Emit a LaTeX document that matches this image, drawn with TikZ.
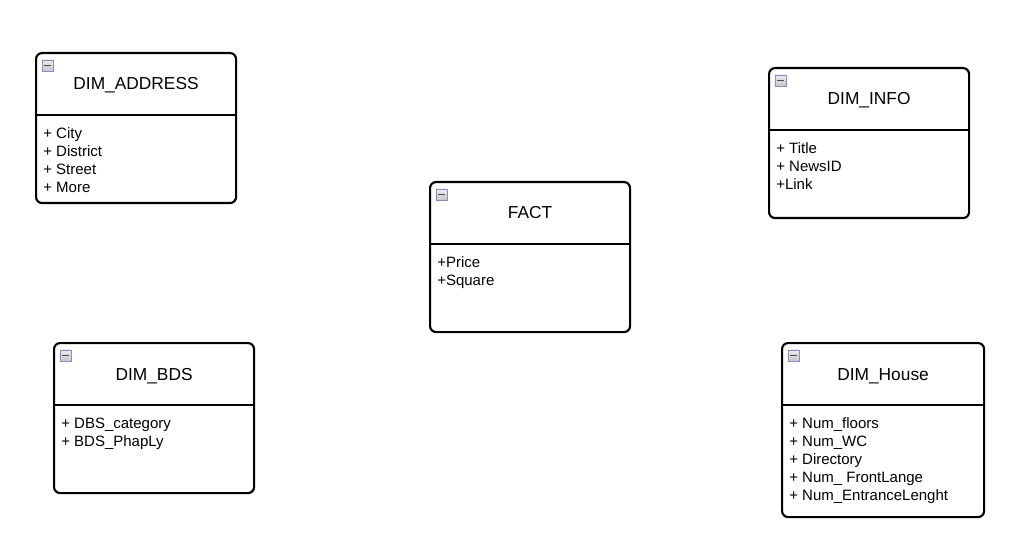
\documentclass[tikz,border=0pt]{standalone}
\usepackage{fontspec}
\setmainfont{Liberation Sans}
\usetikzlibrary{positioning}

\tikzset{
  entity/.style={draw, line width=1.6pt, rounded corners=4.5pt, anchor=north west, inner sep=0pt},
  divider/.style={line width=1.6pt},
  title/.style={inner sep=0pt, anchor=base, font=\fontsize{13}{15}\selectfont},
  attr/.style={inner sep=0pt, anchor=base west, font=\fontsize{11.25}{13.5}\selectfont},
  icon/.style={draw=gray!70!blue!70, top color=gray!15, bottom color=gray!45, minimum size=8.25pt, inner sep=0pt,
    path picture={\draw[line width=1.4pt, black!70] ([xshift=1.6pt]path picture bounding box.west) -- ([xshift=-1.6pt]path picture bounding box.east);}}
}

% name, x, y, width, height, title, attributes (all in px)
\newcommand{\umlentity}[7]{%
  \node[entity, minimum width=#4*0.75pt, minimum height=#5*0.75pt] (#1) at (#2,#3) {};
  \draw[divider] ([yshift=-47.25pt]#1.north west) -- ([yshift=-47.25pt]#1.north east);
  \node[icon] (#1-icon) at ([xshift=9.3pt,yshift=-10.1pt]#1.north west) {};
  \node[title] (#1-title) at ([yshift=-28.5pt]#1.north) {#6};
  \foreach \a [count=\i] in {#7}
    \node[attr] (#1-a\i) at ([xshift=6pt,yshift={-51.25pt-13.5pt*\i}]#1.north west) {\a};
}

\begin{document}
\begin{tikzpicture}[x=0.75pt,y=-0.75pt]
\useasboundingbox (0,0) rectangle (1020,552);

\umlentity{addr}{35}{52}{200}{150}{DIM\_ADDRESS}{+ City, + District, + Street, + More}
\umlentity{info}{768}{67}{200}{150}{DIM\_INFO}{+ Title, + NewsID, +Link}
\umlentity{fact}{429}{181}{200}{150}{FACT}{+Price, +Square}
\umlentity{bds}{53}{342}{200}{150}{DIM\_BDS}{+ DBS\_category, + BDS\_PhapLy}
\umlentity{house}{781}{342}{202}{174}{DIM\_House}{+ Num\_floors, + Num\_WC, + Directory, + Num\_ FrontLange, + Num\_EntranceLenght}

\end{tikzpicture}
\end{document}
